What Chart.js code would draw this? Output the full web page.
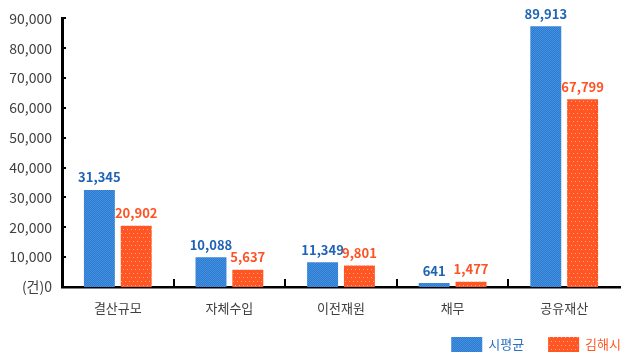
<!DOCTYPE html>
<html>
<head>
<meta charset="utf-8">
<script src="https://cdn.jsdelivr.net/npm/chart.js@4/dist/chart.umd.min.js"></script>
<style>
html,body{margin:0;padding:0;background:#fff;}
#wrap{width:630px;height:360px;}
</style>
</head>
<body>
<div id="wrap"><canvas id="c" width="630" height="360"></canvas></div>
<script>
// Categories and series
const categories = ['결산규모', '자체수입', '이전재원', '채무', '공유재산'];
const seriesNames = ['시평균', '김해시'];
// Bar heights as drawn in the picture
const avgValues = [32500, 10000, 8300, 1300, 87400];
const gimhaeValues = [20500, 5800, 7200, 1800, 62900];
// Printed value labels
const avgLabels = ['31,345', '10,088', '11,349', '641', '89,913'];
const gimhaeLabels = ['20,902', '5,637', '9,801', '1,477', '67,799'];
// Y tick labels
const yTickValues = [0, 10000, 20000, 30000, 40000, 50000, 60000, 70000, 80000, 90000];
const yTickLabels = ['(건)0', '10,000', '20,000', '30,000', '40,000', '50,000', '60,000', '70,000', '80,000', '90,000'];

const FONT = "'Noto Sans CJK KR', 'Noto Sans', sans-serif";
const BLUE_TEXT = '#1f63b5';
const ORANGE_TEXT = '#ff5223';
const LEGEND_COLORS = ['#2a72c4', '#ff5a26'];

function makePattern(w, h, base, dots) {
  const cv = document.createElement('canvas');
  cv.width = w; cv.height = h;
  const x = cv.getContext('2d');
  x.fillStyle = base; x.fillRect(0, 0, w, h);
  dots.forEach(d => { x.fillStyle = d[2]; x.fillRect(d[0], d[1], 1, 1); });
  return document.getElementById('c').getContext('2d').createPattern(cv, 'repeat');
}
const bluePat = makePattern(2, 2, '#4192e0', [[1,0,'#2f7ad0'],[0,1,'#2f7ad0']]);
const orangePat = makePattern(4, 8, '#ff5624', [[1,1,'#ffa688'],[3,5,'#ffa688']]);

const innerTicks = {
  id: 'innerTicks',
  afterDraw(chart) {
    const ctx = chart.ctx;
    const ys = chart.scales.y, xs = chart.scales.x;
    const area = chart.chartArea;
    ctx.save();
    ctx.strokeStyle = '#000';
    ctx.lineWidth = 2;
    ys.ticks.forEach(t => {
      if (t.value === 0) return;
      const py = Math.round(ys.getPixelForValue(t.value));
      ctx.beginPath(); ctx.moveTo(area.left, py); ctx.lineTo(area.left + 4, py); ctx.stroke();
    });
    for (let i = 0; i < categories.length - 1; i++) {
      const px = Math.round((xs.getPixelForTick(i) + xs.getPixelForTick(i + 1)) / 2);
      ctx.beginPath(); ctx.moveTo(px, area.bottom); ctx.lineTo(px, area.bottom - 8); ctx.stroke();
    }
    ctx.restore();
  }
};

const valueLabels = {
  id: 'valueLabels',
  afterDatasetsDraw(chart) {
    const ctx = chart.ctx;
    const lists = [avgLabels, gimhaeLabels];
    const colors = [BLUE_TEXT, ORANGE_TEXT];
    ctx.save();
    ctx.font = 'bold 13px ' + FONT;
    ctx.textAlign = 'center';
    ctx.textBaseline = 'bottom';
    chart.data.datasets.forEach((ds, di) => {
      chart.getDatasetMeta(di).data.forEach((bar, i) => {
        ctx.fillStyle = colors[di];
        ctx.fillText(lists[di][i], bar.x, bar.y - 6);
      });
    });
    ctx.restore();
  }
};

// Legend drawn at bottom right, right-aligned
const customLegend = {
  id: 'customLegend',
  afterDraw(chart) {
    const ctx = chart.ctx;
    ctx.save();
    ctx.font = '13px ' + FONT;
    ctx.textBaseline = 'middle';
    const boxW = 31, boxH = 15, gapText = 6, gapItem = 24;
    const cy = 344.5;
    const ds = chart.data.datasets;
    let x = 621;
    for (let i = ds.length - 1; i >= 0; i--) {
      const tw = ctx.measureText(ds[i].label).width;
      x -= tw;
      ctx.fillStyle = LEGEND_COLORS[i];
      ctx.fillText(ds[i].label, x, cy);
      x -= gapText + boxW;
      ctx.fillStyle = ds[i].backgroundColor;
      ctx.fillRect(x, cy - boxH / 2, boxW, boxH);
      x -= gapItem;
    }
    ctx.restore();
  }
};

new Chart(document.getElementById('c'), {
  type: 'bar',
  data: {
    labels: categories,
    datasets: [
      { label: seriesNames[0], data: avgValues, backgroundColor: bluePat, borderWidth: 0 },
      { label: seriesNames[1], data: gimhaeValues, backgroundColor: orangePat, borderWidth: 0 }
    ]
  },
  options: {
    responsive: false,
    animation: false,
    events: [],
    categoryPercentage: 0.66,
    barPercentage: 0.84,
    layout: { padding: { top: 17, right: 10, left: 0, bottom: 37 } },
    scales: {
      x: {
        grid: { display: false, drawTicks: false },
        border: { display: true, color: '#000', width: 2.5 },
        ticks: { color: '#404040', font: { family: FONT, size: 13 }, padding: 13 },
        afterFit(s) { s.height = 36; }
      },
      y: {
        min: 0, max: 90000,
        afterBuildTicks(s) { s.ticks = yTickValues.map(v => ({ value: v })); },
        grid: { display: false, drawTicks: false },
        border: { display: true, color: '#000', width: 3 },
        ticks: {
          color: '#404040', font: { family: FONT, size: 14 }, padding: 10,
          callback: (v) => yTickLabels[yTickValues.indexOf(v)]
        },
        afterFit(s) { s.width = 62; }
      }
    },
    plugins: {
      tooltip: { enabled: false },
      legend: { display: false }
    }
  },
  plugins: [innerTicks, valueLabels, customLegend]
});
</script>
</body>
</html>
